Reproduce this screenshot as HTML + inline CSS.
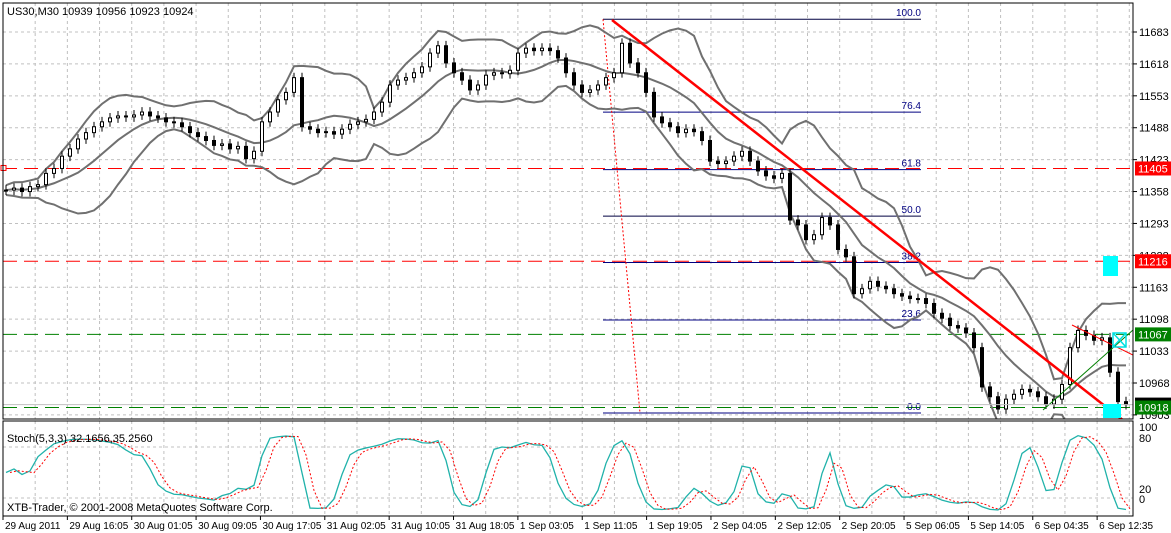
<!DOCTYPE html>
<html><head><meta charset="utf-8"><style>
body{margin:0;background:#fff;}
svg{display:block;font-family:"Liberation Sans",sans-serif;}
</style></head><body>
<svg id="c" width="1171" height="533" xmlns="http://www.w3.org/2000/svg"></svg>
<script>
const closes=[11361,11365,11358,11368,11372,11395,11405,11430,11445,11465,11478,11490,11500,11508,11512,11510,11514,11520,11512,11508,
11500,11498,11490,11478,11470,11462,11452,11455,11445,11450,11425,11440,11500,11520,11545,11560,11590,11490,11485,11478,
11480,11475,11485,11495,11500,11505,11520,11540,11575,11585,11590,11600,11612,11640,11655,11620,11600,11585,11565,11575,
11595,11600,11598,11605,11640,11650,11645,11650,11645,11630,11600,11575,11560,11565,11575,11590,11600,11660,11620,11600,
11560,11510,11498,11490,11478,11485,11480,11462,11420,11415,11420,11430,11440,11420,11400,11390,11385,11395,11300,11290,
11260,11270,11305,11290,11240,11225,11150,11160,11175,11165,11160,11150,11145,11140,11140,11130,11110,11100,11085,11080,
11070,11040,10960,10940,10915,10935,10945,10955,10950,10940,10925,10935,10965,11040,11075,11065,11055,11060,10990,10930,10924];
const priceTicks=[11683,11618,11553,11488,11423,11358,11293,11228,11163,11098,11033,10968,10903];
const timeLabels=["29 Aug 2011","29 Aug 16:05","30 Aug 01:05","30 Aug 09:05","30 Aug 17:05","31 Aug 02:05","31 Aug 10:05","31 Aug 18:05","1 Sep 03:05","1 Sep 11:05","1 Sep 19:05","2 Sep 04:05","2 Sep 12:05","2 Sep 20:05","5 Sep 06:05","5 Sep 14:05","6 Sep 04:35","6 Sep 12:35"];
const fiboLevels=[0,23.6,38.2,50,61.8,76.4,100];
const fiboLow=10907, fiboHigh=11709;
const hLines=[{p:11405,c:"#ff0000",bg:"#ff0000"},{p:11216,c:"#ff0000",bg:"#ff0000"},{p:11067,c:"#008000",bg:"#008000"},{p:10918,c:"#008000",bg:"#008000"}];
const stochTicks=[100,80,20,0];

const NS="http://www.w3.org/2000/svg", svg=document.getElementById('c');
const L=3,R=1133,T=3,B=419,ST=421,SB=516;
const X=i=>6+8*i;
const Y=p=>32+(11683-p)*0.4909;
const SY=v=>515-v*0.85;
function el(t,a,parent){const e=document.createElementNS(NS,t);for(const k in a)e.setAttribute(k,a[k]);(parent||svg).appendChild(e);return e;}
const defs=el('defs',{});
const cp=el('clipPath',{id:'mc'},defs);el('rect',{x:L,y:T,width:R-L,height:B-T},cp);
const cp2=el('clipPath',{id:'sc'},defs);el('rect',{x:L,y:ST,width:R-L,height:SB-ST},cp2);
for(let k=0;k<36;k++){const gx=3+32.18*k;if(gx>R)break;
 const g=el('line',{x1:gx,y1:T,x2:gx,y2:B,stroke:'#c0c0c0','stroke-dasharray':'3,3'});
 
 const g2=el('line',{x1:gx,y1:ST,x2:gx,y2:SB,stroke:'#c0c0c0','stroke-dasharray':'3,3'});
 }
priceTicks.forEach(p=>{const y=Y(p);
 const g=el('line',{x1:L,y1:y,x2:R,y2:y,stroke:'#c0c0c0','stroke-dasharray':'3,3'});
 
 el('line',{x1:R,y1:y,x2:R+4,y2:y,stroke:'#000'});
 const t=el('text',{x:R+6,y:y+4,'font-size':11});t.textContent=p;
 });
const mg=el('g',{'clip-path':'url(#mc)'});
hLines.forEach(h=>{const y=Y(h.p);
 const ln=el('line',{x1:L,y1:y,x2:R,y2:y,stroke:h.c,'stroke-dasharray':'14,7'},mg);
 });
fiboLevels.forEach(f=>{const p=fiboLow+(fiboHigh-fiboLow)*f/100,y=Y(p);
 const ln=el('line',{x1:603,y1:y,x2:921,y2:y,stroke:f==50||f==100?'#000040':'#000080'},mg);
 
 const t=el('text',{x:921,y:y-3,'font-size':10,fill:'#000080','text-anchor':'end'},mg);t.textContent=f.toFixed(1);
 });
const fd=el('line',{x1:603,y1:Y(fiboHigh),x2:640,y2:Y(fiboLow),stroke:'#ff0000','stroke-dasharray':'2,2'},mg);

const per=10,up=[],mid=[],lo=[];
closes.forEach((c,i)=>{const s=closes.slice(Math.max(0,i-per+1),i+1);const m=s.reduce((a,b)=>a+b,0)/s.length;
 const sd=Math.sqrt(s.reduce((a,b)=>a+(b-m)*(b-m),0)/s.length);mid.push(m);up.push(m+2*sd+10);lo.push(m-2*sd-10);});
[up,mid,lo].forEach((arr,k)=>{const pl=el('polyline',{points:arr.map((v,i)=>X(i)+','+Y(v)).join(' '),fill:'none',stroke:'#707070','stroke-width':2},mg);
 });
const wick=10,hi=[],lw=[];
closes.forEach((c,i)=>{const o=i?closes[i-1]:c;const h=Math.max(o,c)+wick,l=Math.min(o,c)-wick;hi.push(h);lw.push(l);
 const x=X(i);
 const w=el('line',{x1:x,y1:Y(h),x2:x,y2:Y(l),stroke:'#000'},mg);
 
 const y1=Y(Math.max(o,c)),y2=Y(Math.min(o,c));
 const r=el('rect',{x:x-1.5,y:y1,width:3,height:Math.max(1,y2-y1),fill:c>=o?'#fff':'#000',stroke:'#000','stroke-width':1},mg);
 });
const tl=el('line',{x1:612,y1:20,x2:1133,y2:428,stroke:'#ff0000','stroke-width':2.5},mg);

const t2=el('line',{x1:1072,y1:325,x2:1133,y2:355,stroke:'#ff0000'},mg);

const t3=el('line',{x1:1043,y1:410,x2:1133,y2:330,stroke:'#008000'},mg);

const cp1=el('line',{x1:L,y1:Y(10924),x2:R,y2:Y(10924),stroke:'#c0c0c0'},mg);

const c1=el('rect',{x:1103,y:256,width:15,height:20,fill:'#00ffff'},mg);

const c2=el('rect',{x:1103,y:404,width:18,height:14,fill:'#00ffff'},mg);

const c3=el('path',{d:'M1113,333 L1126,347 M1126,333 L1113,347 M1113,333 h13 v14 h-13 z',stroke:'#00e0e0',fill:'none','stroke-width':1.5},mg);

const cl=el('rect',{x:R+2,y:Y(10924)-7,width:36,height:13,fill:'#000'});

hLines.forEach(h=>{const y=Y(h.p);
 const r=el('rect',{x:R+2,y:y-7,width:36,height:14,fill:h.bg});
 const t=el('text',{x:R+5,y:y+4,'font-size':11,fill:'#fff'});t.textContent=h.p;
 });
const sq=el('rect',{x:1,y:Y(11405)-3,width:5,height:5,fill:'#fff',stroke:'#ff0000'});

const kRaw=closes.map((c,i)=>{let h=-1e9,l=1e9;for(let j=Math.max(0,i-3);j<=i;j++){h=Math.max(h,hi[j]);l=Math.min(l,lw[j]);}return h>l?100*(c-l)/(h-l):50;});
const sma=(a,n)=>a.map((v,i)=>{const s=a.slice(Math.max(0,i-n+1),i+1);return s.reduce((x,y)=>x+y,0)/s.length;});
const K=sma(kRaw,2),D=sma(K,2);
const sg=el('g',{'clip-path':'url(#sc)'});
[80,20].forEach(v=>{const g=el('line',{x1:L,y1:SY(v),x2:R,y2:SY(v),stroke:'#c0c0c0','stroke-dasharray':'3,3'},sg);
 });
const kl=el('polyline',{points:K.map((v,i)=>X(i)+','+SY(v)).join(' '),fill:'none',stroke:'#20b2aa','stroke-width':1.3},sg);

const dl=el('polyline',{points:D.map((v,i)=>(X(i)+4)+','+SY(v)).join(' '),fill:'none',stroke:'#ff0000','stroke-dasharray':'2,2'},sg);

stochTicks.forEach(v=>{const y=Math.min(503,Math.max(431,SY(v)-5));const t=el('text',{x:R+6,y:y,'font-size':11});t.textContent=v;
 });
const f1=el('rect',{x:L,y:T,width:R-L,height:B-T,fill:'none',stroke:'#000'});
const f2=el('rect',{x:L,y:ST,width:R-L,height:SB-ST,fill:'none',stroke:'#000'});
const tt=el('text',{x:7,y:15,'font-size':11});tt.textContent='US30,M30  10939 10956 10923 10924';

const st=el('text',{x:7,y:442,'font-size':11});st.textContent='Stoch(5,3,3) 32.1656,35.2560';

const cr=el('text',{x:7,y:511,'font-size':11});cr.textContent='XTB-Trader, © 2001-2008 MetaQuotes Software Corp.';

timeLabels.forEach((s,k)=>{const x=3+64.36*k;
 el('line',{x1:x,y1:SB,x2:x,y2:SB+4,stroke:'#000'});
 const t=el('text',{x:x+2,y:529,'font-size':10});t.textContent=s;
 });
</script>
</body></html>
